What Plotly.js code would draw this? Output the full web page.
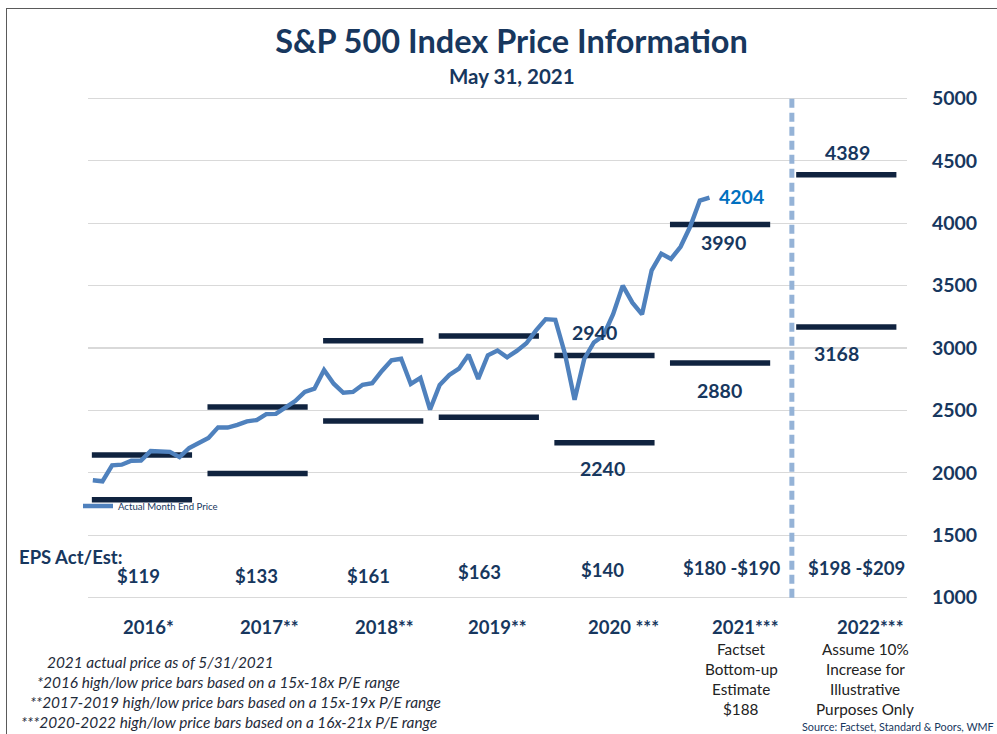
<!DOCTYPE html>
<html>
<head>
<meta charset="utf-8">
<script src="https://cdn.plot.ly/plotly-3.0.1.min.js"></script>
<style>
  html, body { margin:0; padding:0; background:#fff; overflow:hidden; }
  #wrap { position:relative; width:997px; height:734px; }
  #chart { position:absolute; left:0; top:0; width:997px; height:734px; }
  #frame { position:absolute; left:6px; top:8px; width:1200px; height:1200px;
           border-left:1.5px solid #5a5a5a; border-top:1.5px solid #5a5a5a; pointer-events:none; }
</style>
</head>
<body>
<div id="wrap"><div id="chart"></div><div id="frame"></div></div>
<script>
// ---------------- DATA ----------------
const years       = ['2016', '2017', '2018', '2019', '2020', '2021', '2022'];
const yearLabels  = ['2016*', '2017**', '2018**', '2019**', '2020 ***', '2021***', '2022***'];
const epsLabels   = ['$119', '$133', '$161', '$163', '$140', '$180 -$190', '$198 -$209'];
const highPrice   = [2142, 2527, 3059, 3097, 2940, 3990, 4389];
const lowPrice    = [1785, 1995, 2415, 2445, 2240, 2880, 3168];
const labeledYears = ['2020', '2021', '2022'];   // years whose bar values are printed

// month-end S&P 500 closes, Jan 2016 .. May 2021
const monthEndPrice = [
  1940, 1932, 2060, 2065, 2097, 2099, 2174, 2171, 2168, 2126, 2199, 2239,
  2279, 2364, 2363, 2384, 2412, 2423, 2470, 2472, 2519, 2575, 2648, 2674,
  2824, 2714, 2641, 2648, 2705, 2718, 2816, 2902, 2914, 2712, 2760, 2507,
  2704, 2784, 2834, 2946, 2752, 2942, 2980, 2926, 2977, 3038, 3141, 3231,
  3226, 2954, 2585, 2912, 3044, 3100, 3271, 3500, 3363, 3270, 3622, 3756,
  3714, 3811, 3973, 4181, 4204
];
const seriesName = 'Actual Month End Price';
const yTicks = [1000, 1500, 2000, 2500, 3000, 3500, 4000, 4500, 5000];

const title = 'S&P 500 Index Price Information';
const subtitle = 'May 31, 2021';
const epsHeader = 'EPS Act/Est:';
const subNotes = {
  '2021': ['Factset', 'Bottom-up', 'Estimate', '$188'],
  '2022': ['Assume 10%', 'Increase for', 'Illustrative', 'Purposes Only']
};
const footNotes = [
  '2021 actual price as of 5/31/2021',
  '*2016 high/low price bars based on a 15x-18x P/E range',
  '**2017-2019 high/low price bars based on a 15x-19x P/E range',
  '***2020-2022 high/low price bars based on a 16x-21x P/E range'
];
const source = 'Source: Factset, Standard & Poors, WMF';

// ---------------- LAYOUT / STYLE ----------------
const W = 997, H = 734;
const PL = 88, PR = 907, PT = 98, PB = 598;
const px2x = p => (p - PL) / (PR - PL);
const py2y = p => (PB - p) / (PB - PT);
const FONT = 'Lato, "Open Sans", sans-serif';
const NAVY = '#17375e';
const BARC = '#10233f';
const LINEC = '#4f81bd';
const GRIDC = '#d9d9d9';
const BAR_LEN = 10.4;
const barOffset = [0, 0, 0, 0, 0, 0, 1.1];
const DIVIDER_X = 72.55;
const Y_MIN = 1000, Y_MAX = 5000;

const traces = [];
// high / low price bars
years.forEach((yr, k) => {
  const x0 = 12 * k - 0.1 + barOffset[k];
  const x1 = x0 + BAR_LEN;
  [highPrice[k], lowPrice[k]].forEach(v => {
    traces.push({
      x: [x0, x1], y: [v, v], type: 'scatter', mode: 'lines',
      line: { color: BARC, width: 5.5 }, showlegend: false, hoverinfo: 'skip'
    });
  });
});
// monthly price line
traces.push({
  x: monthEndPrice.map((_, i) => i), y: monthEndPrice,
  type: 'scatter', mode: 'lines', name: seriesName,
  line: { color: LINEC, width: 4.4, shape: 'linear' }, showlegend: true
});

const ann = [];
const txt = (text, xp, yp, size, opts) => Object.assign({
  text, xref: 'paper', yref: 'paper', x: px2x(xp), y: py2y(yp),
  xanchor: 'center', yanchor: 'middle', showarrow: false,
  font: { family: FONT, size, color: NAVY }
}, opts || {});

// subtitle
ann.push(txt('<b>' + subtitle + '</b>', 512, 76, 20.5));
// bar value labels (2020-2022)
const valShift = {
  '2020': { hi: [-10, 23], lo: [-2, -26] },
  '2021': { hi: [3, -18], lo: [-1, -28] },
  '2022': { hi: [1, 22], lo: [-10, -26] }
};
labeledYears.forEach(yr => {
  const k = years.indexOf(yr);
  const xc = 12 * k - 0.1 + barOffset[k] + BAR_LEN / 2;
  [['hi', highPrice[k]], ['lo', lowPrice[k]]].forEach(([key, v]) => {
    ann.push({ text: '<b>' + v + '</b>', xref: 'x', yref: 'y', x: xc, y: v,
      xanchor: 'center', yanchor: 'middle',
      xshift: valShift[yr][key][0], yshift: valShift[yr][key][1], showarrow: false,
      font: { family: FONT, size: 19.5, color: NAVY } });
  });
});
// last price label
const lastI = monthEndPrice.length - 1;
ann.push({ text: '<b>' + monthEndPrice[lastI] + '</b>', xref: 'x', yref: 'y', x: lastI, y: monthEndPrice[lastI],
  xanchor: 'left', yanchor: 'middle', xshift: 8, yshift: 1, showarrow: false,
  font: { family: FONT, size: 19.5, color: '#0070c0' } });

// EPS header
ann.push(txt('<b>' + epsHeader + '</b>', 17, 557, 18.5, { xanchor: 'left' }));
// EPS values & year labels
const epsCenterPx = [138, 256, 368, 479, 602, 732, 856];
const epsRowPx    = [576, 576, 576, 572, 570, 568, 568];
const yearCenterPx = [148, 269, 384, 497, 623, 745, 870];
years.forEach((yr, k) => {
  ann.push(txt('<b>' + epsLabels[k] + '</b>', epsCenterPx[k], epsRowPx[k], 18.5));
  ann.push(txt('<b>' + yearLabels[k] + '</b>', yearCenterPx[k], 627, 18.5));
});
// sub notes under 2021 / 2022
const subCenterPx = { '2021': 741, '2022': 865 };
Object.keys(subNotes).forEach(yr => {
  subNotes[yr].forEach((line, j) => {
    ann.push(txt(line, subCenterPx[yr], 649 + j * 20, 15.3, { font: { family: FONT, size: 15.3, color: '#222' } }));
  });
});
// footnotes
const footLeftPx = [45, 35, 28, 19];
footNotes.forEach((t, j) => {
  ann.push(txt('<i>' + t + '</i>', footLeftPx[j], 662 + j * 20, 15.4,
    { xanchor: 'left', font: { family: FONT, size: 15.4, color: '#1f2b3a' } }));
});
// source
ann.push(txt(source, 800, 726, 10.8, { xanchor: 'left' }));

const layout = {
  width: W, height: H,
  margin: { l: PL, r: W - PR, t: PT, b: H - PB, pad: 0 },
  paper_bgcolor: '#fff', plot_bgcolor: '#fff',
  title: { text: '<b>' + title + '</b>', x: 511.5 / W, xref: 'container',
    y: 1 - 42 / H, yref: 'container', xanchor: 'center', yanchor: 'middle',
    font: { family: FONT, size: 32.5, color: NAVY } },
  xaxis: { range: [-0.5, 84.5], showgrid: false, zeroline: false, showticklabels: false, showline: false, fixedrange: true },
  yaxis: { range: [Y_MIN - 3, Y_MAX + 3], side: 'right', tickvals: yTicks, showgrid: true, gridcolor: GRIDC, gridwidth: 1.3,
    zeroline: false, showline: false, ticks: 'outside', ticklen: 20, tickcolor: 'rgba(0,0,0,0)',
    tickfont: { family: FONT, size: 19.5, color: NAVY, weight: 'bold' }, fixedrange: true },
  showlegend: true,
  legend: { x: px2x(78), y: py2y(506), xanchor: 'left', yanchor: 'middle', bgcolor: 'rgba(0,0,0,0)',
    font: { family: FONT, size: 9.6, color: NAVY }, itemwidth: 30, tracegroupgap: 0 },
  shapes: [
    // edge gridlines (top and bottom of value range)
    { type: 'line', xref: 'paper', yref: 'y', x0: 0, x1: 1, y0: Y_MIN, y1: Y_MIN, line: { color: GRIDC, width: 1.3 }, layer: 'below' },
    { type: 'line', xref: 'paper', yref: 'y', x0: 0, x1: 1, y0: Y_MAX, y1: Y_MAX, line: { color: GRIDC, width: 1.3 }, layer: 'below' },
    { type: 'line', xref: 'x', yref: 'y', x0: DIVIDER_X, x1: DIVIDER_X, y0: Y_MIN, y1: Y_MAX,
      line: { color: '#95b3d7', width: 5, dash: '9px,5px' }, layer: 'above' }
  ],
  annotations: ann
};

Plotly.newPlot('chart', traces, layout, { displayModeBar: false, staticPlot: true });
</script>
</body>
</html>
